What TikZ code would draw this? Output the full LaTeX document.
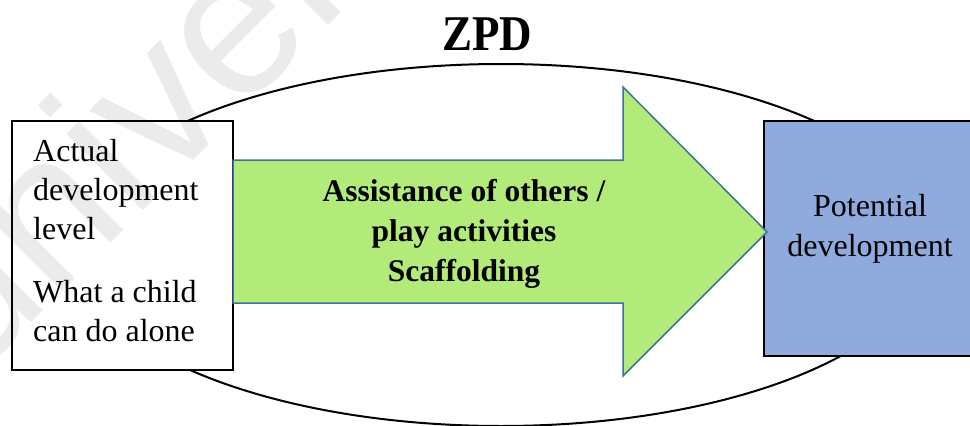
\documentclass[tikz,border=0pt]{standalone}
\usepackage{fontspec}
\setmainfont{Liberation Serif}
\setsansfont{Liberation Sans}
\definecolor{arrowgreen}{HTML}{B3EB7B}
\definecolor{arrowedge}{HTML}{41719C}
\definecolor{potblue}{HTML}{8FAADC}
\tikzset{
  box/.style={draw=black, line width=2pt, inner sep=0pt},
  bigarrow/.style={fill=arrowgreen, draw=arrowedge, line width=1.5pt, line join=miter},
  bodytext/.style={inner sep=0pt, font=\fontsize{32}{39}\selectfont},
  boldtext/.style={inner sep=0pt, font=\fontsize{31.5}{40}\selectfont\bfseries},
  wmark/.style={inner sep=0pt, text=black, opacity=0.08, font=\sffamily\fontsize{205}{205}\selectfont}
}
\begin{document}
\begin{tikzpicture}[x=1pt, y=-1pt]
\useasboundingbox (0,0) rectangle (970,426);
\clip (0,0) rectangle (970,426);

% zone of proximal development
\draw[line width=2pt] (501,245) ellipse [x radius=430, y radius=181];
\node[inner sep=0pt, anchor=base, font=\fontsize{50}{56}\selectfont\bfseries] (zpd) at (487,50)
  {\scalebox{0.9}[1]{ZPD}};

% the two levels
\node[box, fill=white, minimum width=221pt, minimum height=249pt] (actual) at (122.5,245.5) {};
\node[box, fill=potblue, minimum width=212pt, minimum height=235pt] (potential) at (870,238.5) {};

% block arrow between them
\draw[bigarrow] (233,160) -- (623,160) -- (623,87) -- (767,232) -- (623,376) -- (623,303) -- (233,303) -- cycle;

% texts
\node[bodytext, anchor=base west] (actualtext) at (33,161)
  {\begin{tabular}[t]{@{}l@{}}Actual\\development\\level\\[24pt]What a child\\can do alone\end{tabular}};
\node[bodytext, anchor=base, font=\fontsize{32}{40}\selectfont] (pottext) at (870,216)
  {\begin{tabular}[t]{@{}c@{}}Potential\\development\end{tabular}};
\node[boldtext, anchor=base] (helptext) at (464,201)
  {\begin{tabular}[t]{@{}c@{}}Assistance of others /\\play activities\\Scaffolding\end{tabular}};

% faint watermark
\node[wmark, rotate=45, anchor=base west] (wm) at (-28,382) {university};
\end{tikzpicture}
\end{document}
